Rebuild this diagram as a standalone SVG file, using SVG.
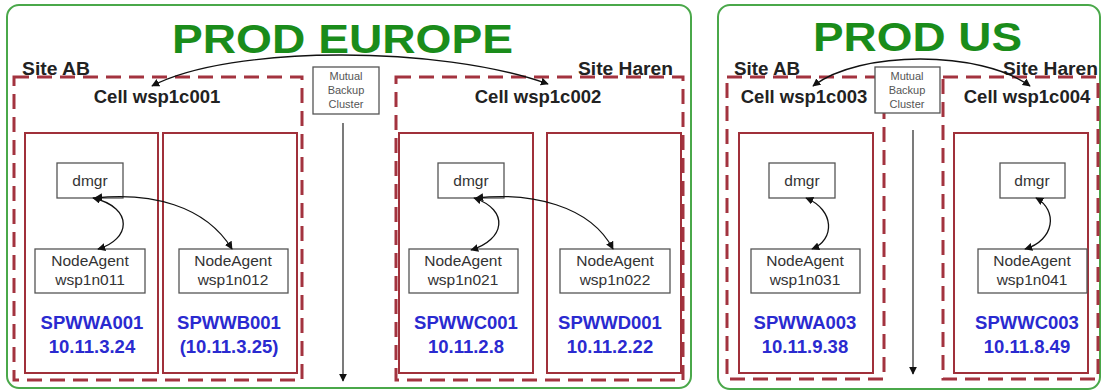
<svg xmlns="http://www.w3.org/2000/svg" width="1102" height="391" viewBox="0 0 1102 391">
<defs>
<marker id="ah" viewBox="0 0 10 10" refX="9" refY="5" markerWidth="8" markerHeight="8" markerUnits="userSpaceOnUse" orient="auto-start-reverse">
<path d="M0,0 L10,5 L0,10 z" fill="#111"/>
</marker>
<style>
.panel{fill:#fff;stroke:#4aa84a;stroke-width:2}
.title{font-family:"Liberation Sans",Arial,sans-serif;font-weight:bold;font-size:40px;fill:#1a8c1a}
.site{fill:none;stroke:#a3333f;stroke-width:3;stroke-dasharray:15 8}
.sitel{font-family:"Liberation Sans",Arial,sans-serif;font-weight:bold;font-size:18px;fill:#222}
.cell{font-family:"Liberation Sans",Arial,sans-serif;font-weight:bold;font-size:18.5px;fill:#222;text-anchor:middle}
.srv{fill:#fff;stroke:#a0303a;stroke-width:2}
.box{fill:#fff;stroke:#555;stroke-width:1.3}
.bt{font-family:"Liberation Sans",Arial,sans-serif;font-size:15.5px;fill:#333;text-anchor:middle}
.mt{font-family:"Liberation Sans",Arial,sans-serif;font-size:11px;fill:#555;text-anchor:middle}
.blue{font-family:"Liberation Sans",Arial,sans-serif;font-weight:bold;font-size:18.5px;fill:#2a2ad0;text-anchor:middle}
.con{fill:none;stroke:#111;stroke-width:1.3;marker-start:url(#ah);marker-end:url(#ah)}
.vl{fill:none;stroke:#333;stroke-width:1.3;marker-end:url(#ah)}
</style>
</defs>

<g id="panel-europe">
<rect class="panel" x="7" y="5" width="684" height="383" rx="12"/>
<text class="title" x="172" y="53" textLength="341" lengthAdjust="spacingAndGlyphs">PROD EUROPE</text>
</g>
<g id="panel-us">
<rect class="panel" x="718" y="5" width="382" height="384" rx="12"/>
<text class="title" x="813" y="51" textLength="209" lengthAdjust="spacingAndGlyphs">PROD US</text>
</g>

<g id="site-eu-ab">
<rect class="site" x="14" y="77" width="288" height="303"/>
<text class="sitel" x="22" y="75" textLength="68" lengthAdjust="spacingAndGlyphs">Site AB</text>
<text class="cell" x="157" y="103">Cell wsp1c001</text>
</g>
<g id="site-eu-haren">
<rect class="site" x="396" y="77" width="287" height="303"/>
<text class="sitel" x="578" y="75" textLength="95" lengthAdjust="spacingAndGlyphs">Site Haren</text>
<text class="cell" x="538" y="103">Cell wsp1c002</text>
</g>
<g id="site-us-ab">
<rect class="site" x="727" y="77" width="157" height="302"/>
<text class="sitel" x="734" y="75" textLength="66" lengthAdjust="spacingAndGlyphs">Site AB</text>
<text class="cell" x="804" y="103">Cell wsp1c003</text>
</g>
<g id="site-us-haren">
<rect class="site" x="943" y="77" width="155" height="302"/>
<text class="sitel" x="1003" y="75" textLength="95" lengthAdjust="spacingAndGlyphs">Site Haren</text>
<text class="cell" x="1027" y="103">Cell wsp1c004</text>
</g>

<g id="srv-spwwa001">
<rect class="srv" x="25" y="133" width="133" height="240"/>
<text class="blue" x="92" y="329">SPWWA001</text>
<text class="blue" x="92" y="353">10.11.3.24</text>
</g>
<g id="srv-spwwb001">
<rect class="srv" x="163" y="133" width="134" height="240"/>
<text class="blue" x="229" y="329">SPWWB001</text>
<text class="blue" x="229" y="353">(10.11.3.25)</text>
</g>
<g id="srv-spwwc001">
<rect class="srv" x="399" y="133" width="134" height="240"/>
<text class="blue" x="466" y="329">SPWWC001</text>
<text class="blue" x="466" y="353">10.11.2.8</text>
</g>
<g id="srv-spwwd001">
<rect class="srv" x="547" y="133" width="134" height="240"/>
<text class="blue" x="610" y="329">SPWWD001</text>
<text class="blue" x="610" y="353">10.11.2.22</text>
</g>
<g id="srv-spwwa003">
<rect class="srv" x="739" y="133" width="134" height="240"/>
<text class="blue" x="805" y="329">SPWWA003</text>
<text class="blue" x="805" y="353">10.11.9.38</text>
</g>
<g id="srv-spwwc003">
<rect class="srv" x="954" y="133" width="134" height="240"/>
<text class="blue" x="1027" y="329">SPWWC003</text>
<text class="blue" x="1027" y="353">10.11.8.49</text>
</g>

<g id="mutual-eu">
<rect class="box" x="313" y="67" width="66" height="47"/>
<text class="mt" x="346" y="80">Mutual</text>
<text class="mt" x="346" y="94">Backup</text>
<text class="mt" x="346" y="108">Cluster</text>
</g>
<g id="mutual-us">
<rect class="box" x="875" y="67" width="65" height="46"/>
<text class="mt" x="907" y="80">Mutual</text>
<text class="mt" x="907" y="94">Backup</text>
<text class="mt" x="907" y="108">Cluster</text>
</g>

<g id="dmgr-eu1"><rect class="box" x="57" y="163" width="66" height="35"/><text class="bt" x="90" y="186">dmgr</text></g>
<g id="dmgr-eu2"><rect class="box" x="438" y="163" width="66" height="35"/><text class="bt" x="471" y="186">dmgr</text></g>
<g id="dmgr-us1"><rect class="box" x="769" y="163" width="66" height="35"/><text class="bt" x="802" y="186">dmgr</text></g>
<g id="dmgr-us2"><rect class="box" x="1000" y="163" width="65" height="35"/><text class="bt" x="1032" y="186">dmgr</text></g>

<g id="na-wsp1n011"><rect class="box" x="35" y="249" width="110" height="44"/><text class="bt" x="90" y="266">NodeAgent</text><text class="bt" x="90" y="285">wsp1n011</text></g>
<g id="na-wsp1n012"><rect class="box" x="179" y="249" width="109" height="44"/><text class="bt" x="233" y="266">NodeAgent</text><text class="bt" x="233" y="285">wsp1n012</text></g>
<g id="na-wsp1n021"><rect class="box" x="409" y="249" width="109" height="44"/><text class="bt" x="463" y="266">NodeAgent</text><text class="bt" x="463" y="285">wsp1n021</text></g>
<g id="na-wsp1n022"><rect class="box" x="560" y="249" width="110" height="44"/><text class="bt" x="615" y="266">NodeAgent</text><text class="bt" x="615" y="285">wsp1n022</text></g>
<g id="na-wsp1n031"><rect class="box" x="751" y="249" width="109" height="44"/><text class="bt" x="805" y="266">NodeAgent</text><text class="bt" x="805" y="285">wsp1n031</text></g>
<g id="na-wsp1n041"><rect class="box" x="978" y="249" width="109" height="44"/><text class="bt" x="1032" y="266">NodeAgent</text><text class="bt" x="1032" y="285">wsp1n041</text></g>

<g id="connectors">
<path class="con" d="M152,86 C230,45 440,45 548,84"/>
<path class="con" d="M813,86 C860,50 980,50 1030,86"/>
<path class="vl" d="M343,123 L343,381"/>
<path class="vl" d="M913,130 L913,374"/>
<path class="con" d="M93,198 C135,208 130,240 98,249"/>
<path class="con" d="M95,198 C150,192 205,205 232,249"/>
<path class="con" d="M474,198 C510,210 505,240 471,250"/>
<path class="con" d="M476,198 C530,192 590,205 613,249"/>
<path class="con" d="M806,198 C835,210 835,240 812,249"/>
<path class="con" d="M1036,198 C1058,210 1055,240 1025,249"/>
</g>
</svg>
